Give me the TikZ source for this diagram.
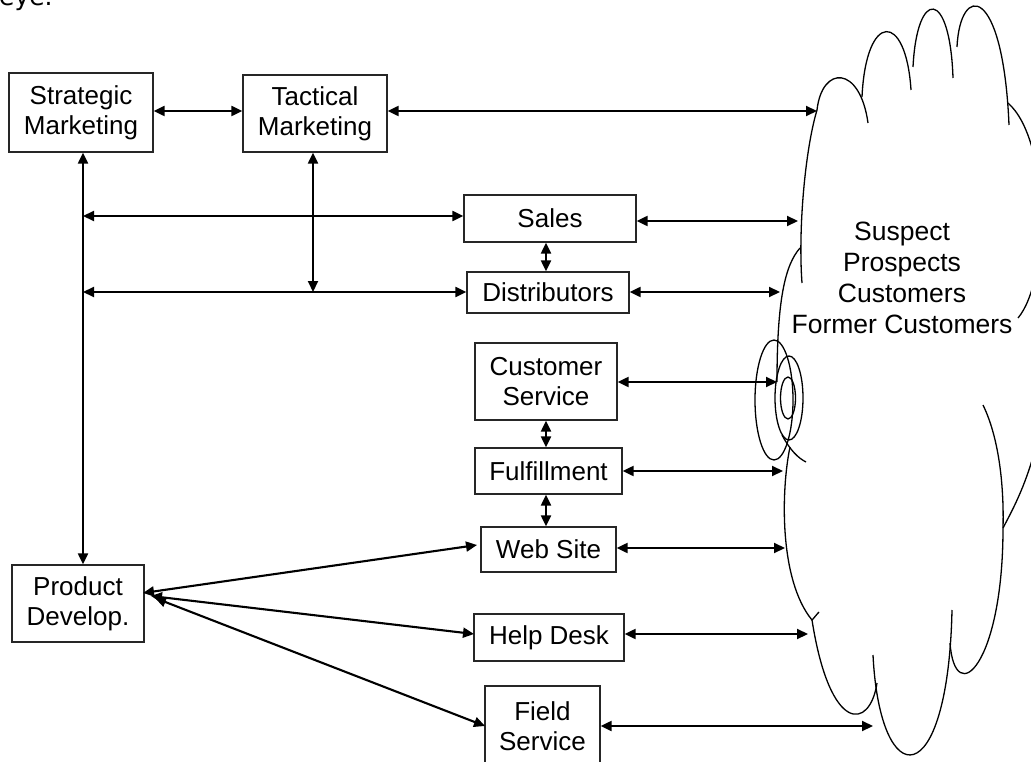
\documentclass[tikz,border=0pt]{standalone}
\usepackage{fontspec}
\setmainfont{Liberation Sans}
\newfontfamily\eyefont{DejaVu Sans}
\usetikzlibrary{arrows.meta,calc}
\begin{document}
\begin{tikzpicture}[x=1pt,y=-1pt,
  box/.style={draw=black!85, line width=1.3pt, fill=white, align=center, inner sep=0pt,
              font=\fontsize{26}{30}\selectfont},
  conn/.style={line width=2.1pt, {Triangle[length=11pt,width=10pt]}-{Triangle[length=11pt,width=10pt]}},
  cl/.style={line width=1.3pt}]
\useasboundingbox[fill=white] (0,0) rectangle (1031,762);

% partially visible text at top
\node[anchor=base west, inner sep=0pt, font=\eyefont\fontsize{25}{30}\selectfont] (eye) at (-1,6) {eye.};

% boxes
\node[box, minimum width=144pt, minimum height=79pt] (SM) at (81,112.5) {Strategic\\Marketing};
\node[box, minimum width=144pt, minimum height=77pt] (TM) at (315,113.5) {Tactical\\Marketing};
\node[box, minimum width=172pt, minimum height=47pt] (Sales) at (550,218.5) {Sales};
\node[box, minimum width=162pt, minimum height=41pt] (Dist) at (548,292.5) {Distributors};
\node[box, minimum width=142pt, minimum height=77pt] (CS) at (546,381.5) {Customer\\Service};
\node[box, minimum width=147pt, minimum height=46pt] (Ful) at (548.5,471) {Fulfillment};
\node[box, minimum width=135pt, minimum height=45pt] (Web) at (548.5,549.5) {Web Site};
\node[box, minimum width=150pt, minimum height=47pt] (Help) at (549,637.5) {Help Desk};
\node[box, minimum width=115pt, minimum height=80pt] (Field) at (542.5,726) {Field\\Service};
\node[box, minimum width=132pt, minimum height=77pt] (PD) at (78,603.5) {Product\\Develop.};

% cloud
\draw[cl] (817,110) .. controls (805,150) and (798,230) .. (802,283);
\draw[cl] (817,110) .. controls (822,65) and (860,65) .. (868,123);
\draw[cl] (862,97) .. controls (866,11) and (906,11) .. (911,90);
\draw[cl] (913,67) .. controls (917,-12) and (950,-12) .. (953,78);
\draw[cl] (957,47) .. controls (960,-17) and (1003,-17) .. (1009,125);
\draw[cl] (1008,103) .. controls (1050,140) and (1050,280) .. (1018,318);
\draw[cl] (800,248) .. controls (785,265) and (777,300) .. (777,382);
\draw[cl] (774,400) ellipse [x radius=19pt, y radius=60pt];
\draw[cl] (789,398) ellipse [x radius=14pt, y radius=42pt];
\draw[cl] (788,398) ellipse [x radius=7.5pt, y radius=21pt];
\draw[cl] (782,435) .. controls (790,450) and (798,458) .. (806,462);
\draw[cl] (790,447) .. controls (781,490) and (779,580) .. (812,620) .. controls (814,618) and (817,614) .. (819,612);
\draw[cl] (812,620) .. controls (830,735) and (870,730) .. (877,683);
\draw[cl] (952,610) .. controls (948,795) and (880,795) .. (873,655);
\draw[cl] (983,405) .. controls (1000,440) and (1004,490) .. (1003,528) .. controls (1003,665) and (955,710) .. (950,643);
\draw[cl] (1045,400) .. controls (1035,470) and (1015,505) .. (1003,528);
\node[align=center, inner sep=0pt, font=\fontsize{26.5}{31}\selectfont] (crowd) at (902,278)
  {Suspect\\Prospects\\Customers\\Former Customers};

% helper coordinates
\coordinate (cT) at (817,111);
\coordinate (cS) at (798,221);
\coordinate (cD) at (780,292);
\coordinate (cCS) at (777,382);
\coordinate (cF) at (783,471);
\coordinate (cW) at (785,548);
\coordinate (cH) at (808,634);
\coordinate (cFS) at (873,726);
\coordinate (sl) at (83,216);
\coordinate (dl) at (83,292);
\coordinate (tv) at (313,292);
\coordinate (mx) at (546,0);
\coordinate (pd1) at (143,593);
\coordinate (pd2) at (151,596);
\coordinate (pd3) at (155,598);
\coordinate (w1) at (477,545);
\coordinate (h1) at (474,634);
\coordinate (f1) at (485,726);

% connectors
\draw[conn] (SM.east |- cT) -- (TM.west |- cT);
\draw[conn] (TM.east |- cT) -- (cT);
\draw[conn] (SM.south -| sl) -- (PD.north -| sl);
\draw[conn] (sl) -- (Sales.west |- sl);
\draw[conn] (dl) -- (Dist.west |- dl);
\draw[conn] (TM.south -| tv) -- (tv);
\draw[conn] (Sales.east |- cS) -- (cS);
\draw[conn] (Sales.south -| mx) -- (Dist.north -| mx);
\draw[conn] (Dist.east |- cD) -- (cD);
\draw[conn] (CS.east |- cCS) -- (cCS);
\draw[conn] (CS.south -| mx) -- (Ful.north -| mx);
\draw[conn] (Ful.east |- cF) -- (cF);
\draw[conn] (Ful.south -| mx) -- (Web.north -| mx);
\draw[conn] (Web.east |- cW) -- (cW);
\draw[conn] (Help.east |- cH) -- (cH);
\draw[conn] (Field.east |- cFS) -- (cFS);
\draw[conn] (pd1) -- (w1);
\draw[conn] (pd2) -- (h1);
\draw[conn] (pd3) -- (f1);
\end{tikzpicture}
\end{document}
